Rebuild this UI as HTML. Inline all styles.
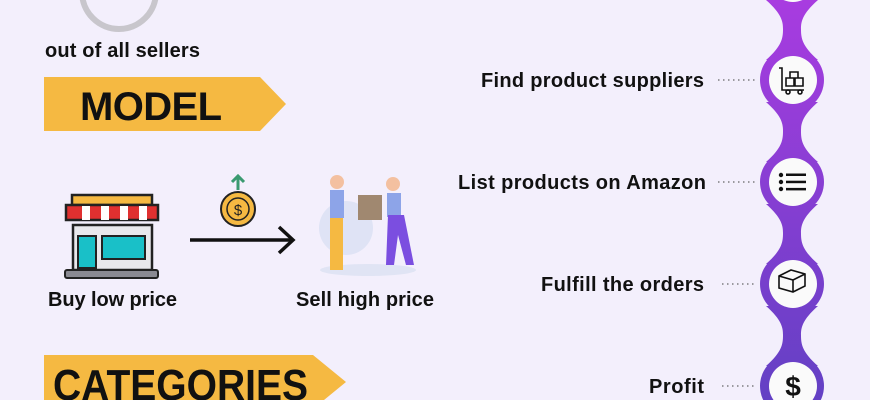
<!DOCTYPE html>
<html><head><style>
body{margin:0;width:870px;height:400px;overflow:hidden;background:#f3effc;font-family:"Liberation Sans",Arial,sans-serif;}
svg{position:absolute;left:0;top:0}
</style></head><body>
<svg width="870" height="400" viewBox="0 0 870 400" xmlns="http://www.w3.org/2000/svg">
<defs>
<linearGradient id="pg" gradientUnits="userSpaceOnUse" x1="0" y1="0" x2="0" y2="400"><stop offset="0" stop-color="#a83ce0"/><stop offset="1" stop-color="#6340c4"/></linearGradient>
</defs>
<circle cx="119" cy="-8" r="37" fill="none" stroke="#c8c6cc" stroke-width="6"/>
<text x="45" y="57" font-size="20" font-weight="bold" fill="#111" textLength="155">out of all sellers</text>
<polygon points="44,77 260,77 286,104 260,131 44,131" fill="#f5b942"/>
<text x="80" y="120" font-size="40" font-weight="bold" fill="#111" textLength="142">MODEL</text>
<polygon points="44,355 313,355 346,382 313,409 44,409" fill="#f5b942"/>
<text x="53" y="400" font-size="44" font-weight="bold" fill="#111" textLength="255" lengthAdjust="spacingAndGlyphs">CATEGORIES</text>
<!-- store -->
<rect x="72" y="195" width="80" height="10" fill="#f5b942" stroke="#222" stroke-width="2.5"/>
<rect x="73" y="225" width="79" height="45" fill="#e8e8ec" stroke="#222" stroke-width="2.5"/>
<rect x="66" y="205" width="92" height="15" fill="#e03030" stroke="#222" stroke-width="2.5"/>
<g fill="#fff"><rect x="82" y="206" width="8" height="14"/><rect x="101" y="206" width="8" height="14"/><rect x="120" y="206" width="8" height="14"/><rect x="139" y="206" width="8" height="14"/></g>
<rect x="78" y="236" width="18" height="32" fill="#19c0c8" stroke="#222" stroke-width="2"/>
<rect x="102" y="236" width="43" height="23" fill="#19c0c8" stroke="#222" stroke-width="2"/>
<rect x="65" y="270" width="93" height="8" rx="2" fill="#8a8a92" stroke="#222" stroke-width="2"/>
<text x="48" y="306" font-size="20" font-weight="bold" fill="#111" textLength="129">Buy low price</text>
<!-- arrow -->
<line x1="190" y1="240" x2="293" y2="240" stroke="#111" stroke-width="3.5"/>
<polyline points="279,227 293,240 279,253" fill="none" stroke="#111" stroke-width="3.5"/>
<circle cx="238" cy="209" r="17" fill="#f5b942" stroke="#222" stroke-width="2"/>
<circle cx="238" cy="209" r="11" fill="none" stroke="#222" stroke-width="1.5"/>
<text x="238" y="215" font-size="15" text-anchor="middle" fill="#222">$</text>
<path d="M238 190v-12M232 182l6-6 6 6" stroke="#3a9a70" stroke-width="3" fill="none"/>
<!-- people -->
<circle cx="346" cy="228" r="27" fill="#dfe3f5"/>
<ellipse cx="368" cy="270" rx="48" ry="6" fill="#e0e4f4"/>
<rect x="330" y="215" width="13" height="55" fill="#f5b942"/>
<rect x="330" y="190" width="14" height="28" fill="#8da4e8"/>
<circle cx="337" cy="182" r="7" fill="#f3c0a0"/>
<rect x="358" y="195" width="24" height="25" fill="#a08870"/>
<rect x="387" y="193" width="14" height="24" fill="#8da4e8"/>
<path d="M388 215l-2 50 8 0 4-30 8 30 8 0-10-50z" fill="#7b4ee0"/>
<circle cx="393" cy="184" r="7" fill="#f3c0a0"/>
<text x="296" y="306" font-size="20" font-weight="bold" fill="#111" textLength="138">Sell high price</text>
<!-- chain -->
<g fill="url(#pg)">
<circle cx="792" cy="-22" r="32"/><circle cx="792" cy="80" r="32"/><circle cx="792" cy="182" r="32"/><circle cx="792" cy="284" r="32"/><circle cx="792" cy="386" r="32"/>
<path d="M766 0 C782 14 783 22 783 29 C783 38 782 46 766 60 L818 60 C802 46 801 38 801 29 C801 22 802 14 818 0Z"/>
<path d="M766 102 C782 116 783 124 783 131 C783 140 782 148 766 162 L818 162 C802 148 801 140 801 131 C801 124 802 116 818 102Z"/>
<path d="M766 204 C782 218 783 226 783 233 C783 242 782 250 766 264 L818 264 C802 250 801 242 801 233 C801 226 802 218 818 204Z"/>
<path d="M766 306 C782 320 783 328 783 335 C783 344 782 352 766 366 L818 366 C802 352 801 344 801 335 C801 328 802 320 818 306Z"/>
</g>
<g fill="#fafafa"><circle cx="793" cy="-22" r="24"/><circle cx="793" cy="80" r="24"/><circle cx="793" cy="182" r="24"/><circle cx="793" cy="284" r="24"/><circle cx="793" cy="386" r="24"/></g>
<!-- icons -->
<g stroke="#111" stroke-width="1.6" fill="none">
<path d="M779 68h3v22h22M786 78h8v8h-8zM795 78h8v8h-8zM790 72h8v6h-8z"/><circle cx="788" cy="92" r="2"/><circle cx="800" cy="92" r="2"/>
<path d="M779 276l12-6 14 4v12l-12 6-14-4zM779 276l14 4 12-6M793 280v12"/>
</g>
<g fill="#111"><circle cx="781" cy="175" r="2.2"/><circle cx="781" cy="182" r="2.2"/><circle cx="781" cy="189" r="2.2"/>
<rect x="786" y="173.5" width="20" height="2.5"/><rect x="786" y="180.7" width="20" height="2.5"/><rect x="786" y="187.9" width="20" height="2.5"/></g>
<text x="793" y="396" font-size="28" font-weight="bold" text-anchor="middle" fill="#111">$</text>
<!-- labels -->
<g font-size="20" font-weight="bold" fill="#111">
<text x="481" y="87" textLength="223">Find product suppliers</text>
<text x="458" y="189" textLength="248">List products on Amazon</text>
<text x="541" y="291" textLength="163">Fulfill the orders</text>
<text x="649" y="393" textLength="55">Profit</text>
</g>
<g stroke="#666" stroke-width="1.2" stroke-dasharray="1.5 3.5">
<line x1="718" y1="80" x2="757" y2="80"/><line x1="718" y1="182" x2="757" y2="182"/><line x1="722" y1="284" x2="757" y2="284"/><line x1="722" y1="386" x2="757" y2="386"/>
</g>
</svg>
</body></html>
